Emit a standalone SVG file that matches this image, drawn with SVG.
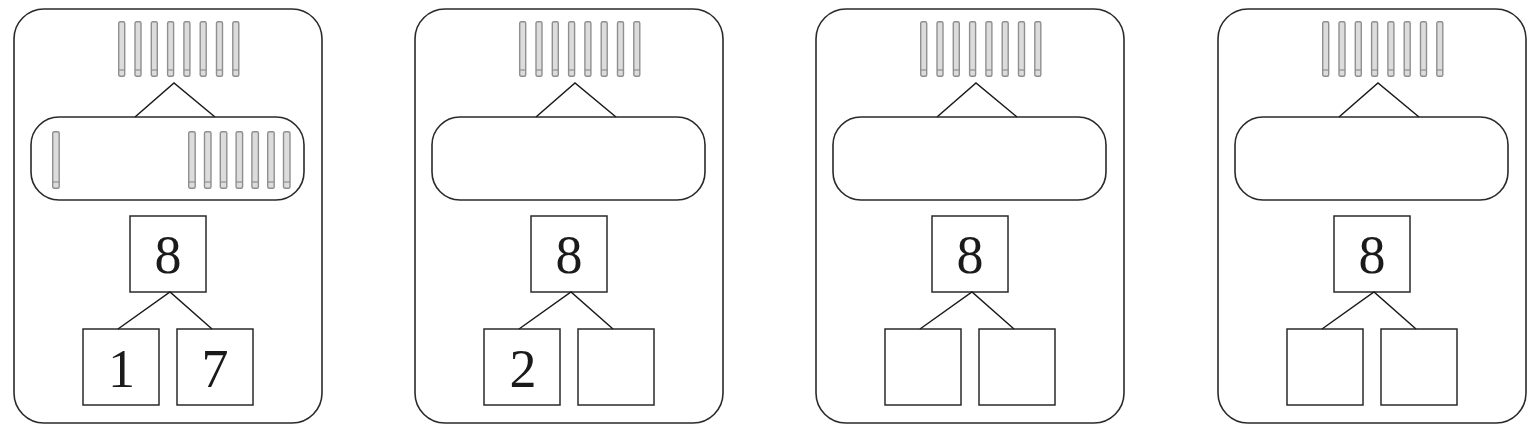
<svg xmlns="http://www.w3.org/2000/svg" xmlns:xlink="http://www.w3.org/1999/xlink" width="1536" height="429" viewBox="0 0 1536 429">
<style>
.card{fill:#fff;stroke:#2a2a2a;stroke-width:1.6}
.oval{fill:#fff;stroke:#2a2a2a;stroke-width:1.6}
.box{fill:#fff;stroke:#2a2a2a;stroke-width:1.5}
.num{font-family:"Liberation Serif","Times New Roman",serif;font-size:54px;fill:#1a1a1a;text-anchor:middle}
.conn{fill:none;stroke:#1a1a1a;stroke-width:1.5}
.stk{fill:#dcdcdc;stroke:#8f8f8f;stroke-width:1.4}
.stkl{stroke:#8f8f8f;stroke-width:1.2}
</style>
<defs>
<g id="stick">
<rect class="stk" x="0.7" y="0.7" width="6" height="54.6" rx="1.5"/>
<line class="stkl" x1="0.7" y1="49" x2="6.7" y2="49"/>
</g>
<g id="stickL">
<rect class="stk" x="0.7" y="0.7" width="6.5" height="56.6" rx="1.5"/>
<line class="stkl" x1="0.7" y1="51" x2="7.2" y2="51"/>
</g>
<g id="topSticks">
<use xlink:href="#stick" x="118" y="21"/>
<use xlink:href="#stick" x="134.3" y="21"/>
<use xlink:href="#stick" x="150.6" y="21"/>
<use xlink:href="#stick" x="166.9" y="21"/>
<use xlink:href="#stick" x="183.2" y="21"/>
<use xlink:href="#stick" x="199.5" y="21"/>
<use xlink:href="#stick" x="215.8" y="21"/>
<use xlink:href="#stick" x="232.1" y="21"/>
</g>
</defs>

<g id="card1">
<rect class="card" x="14" y="9" width="308" height="414" rx="30"/>
<g id="card1-sticks"><use xlink:href="#topSticks"/></g>
<g id="card1-group">
<rect class="oval" x="31" y="117" width="273" height="83" rx="28"/>
<use xlink:href="#stickL" x="52" y="131"/>
<use xlink:href="#stickL" x="188" y="131"/>
<use xlink:href="#stickL" x="203.8" y="131"/>
<use xlink:href="#stickL" x="219.6" y="131"/>
<use xlink:href="#stickL" x="235.4" y="131"/>
<use xlink:href="#stickL" x="251.2" y="131"/>
<use xlink:href="#stickL" x="267" y="131"/>
<use xlink:href="#stickL" x="282.8" y="131"/>
</g>
<g id="card1-whole"><rect class="box" x="130" y="216" width="76" height="76"/><text class="num" x="168" y="273">8</text></g>
<g id="card1-partA"><rect class="box" x="83" y="329" width="76" height="76"/><text class="num" x="121.5" y="387">1</text></g>
<g id="card1-partB"><rect class="box" x="177" y="329" width="76" height="76"/><text class="num" x="215" y="387">7</text></g>
</g>

<g id="card2" transform="translate(401,0)">
<rect class="card" x="14" y="9" width="308" height="414" rx="30"/>
<g id="card2-sticks"><use xlink:href="#topSticks"/></g>
<g id="card2-group"><rect class="oval" x="31" y="117" width="273" height="83" rx="28"/></g>
<g id="card2-whole"><rect class="box" x="130" y="216" width="76" height="76"/><text class="num" x="168" y="273">8</text></g>
<g id="card2-partA"><rect class="box" x="83" y="329" width="76" height="76"/><text class="num" x="122" y="387">2</text></g>
<g id="card2-partB"><rect class="box" x="177" y="329" width="76" height="76"/></g>
</g>

<g id="card3" transform="translate(802,0)">
<rect class="card" x="14" y="9" width="308" height="414" rx="30"/>
<g id="card3-sticks"><use xlink:href="#topSticks"/></g>
<g id="card3-group"><rect class="oval" x="31" y="117" width="273" height="83" rx="28"/></g>
<g id="card3-whole"><rect class="box" x="130" y="216" width="76" height="76"/><text class="num" x="168" y="273">8</text></g>
<g id="card3-partA"><rect class="box" x="83" y="329" width="76" height="76"/></g>
<g id="card3-partB"><rect class="box" x="177" y="329" width="76" height="76"/></g>
</g>

<g id="card4" transform="translate(1204,0)">
<rect class="card" x="14" y="9" width="308" height="414" rx="30"/>
<g id="card4-sticks"><use xlink:href="#topSticks"/></g>
<g id="card4-group"><rect class="oval" x="31" y="117" width="273" height="83" rx="28"/></g>
<g id="card4-whole"><rect class="box" x="130" y="216" width="76" height="76"/><text class="num" x="168" y="273">8</text></g>
<g id="card4-partA"><rect class="box" x="83" y="329" width="76" height="76"/></g>
<g id="card4-partB"><rect class="box" x="177" y="329" width="76" height="76"/></g>
</g>

<g id="connectors">
<g transform="translate(0,0)">
<polyline class="conn" points="135,117 174,83 215,117"/>
<polyline class="conn" points="118,329 170,292 212,329"/>
</g>
<g transform="translate(401,0)">
<polyline class="conn" points="135,117 174,83 215,117"/>
<polyline class="conn" points="118,329 170,292 212,329"/>
</g>
<g transform="translate(802,0)">
<polyline class="conn" points="135,117 174,83 215,117"/>
<polyline class="conn" points="118,329 170,292 212,329"/>
</g>
<g transform="translate(1204,0)">
<polyline class="conn" points="135,117 174,83 215,117"/>
<polyline class="conn" points="118,329 170,292 212,329"/>
</g>
</g>
</svg>
